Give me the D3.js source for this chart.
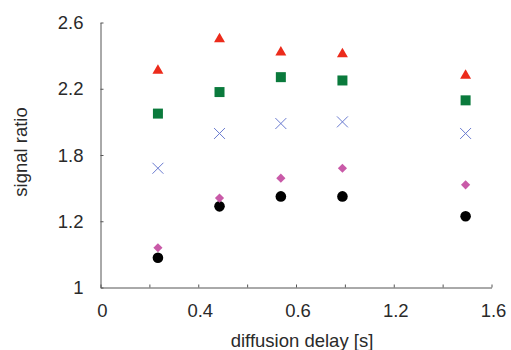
<!DOCTYPE html>
<html>
<head>
<meta charset="utf-8">
<script src="https://cdn.jsdelivr.net/npm/d3@7"></script>
<style>
  body { margin: 0; background: #fff; }
  text { font-family: "Liberation Sans", Arial, sans-serif; fill: #2a2a2a; }
</style>
</head>
<body>
<div class="canvas"></div>
<script>
// diffusion delay [s]
const delays = [0.235, 0.487, 0.738, 0.99, 1.494];

// signal ratio per series
const triangles = [2.31, 2.50, 2.42, 2.41, 2.28];
const squares   = [2.05, 2.18, 2.27, 2.25, 2.13];
const crosses   = [1.72, 1.93, 1.99, 2.00, 1.93];
const diamonds  = [1.24, 1.54, 1.66, 1.72, 1.62];
const circles   = [1.18, 1.49, 1.55, 1.55, 1.43];

// tick positions and the labels printed next to them
const xTicks = [0, 0.4, 0.8, 1.2, 1.6];
const xTickLabels = ['0', '0.4', '0.6', '1.2', '1.6'];
const yTicks = [1, 1.4, 1.8, 2.2, 2.6];
const yTickLabels = ['1', '1.2', '1.8', '2.2', '2.6'];

const dims = { width: 511, height: 350 };
const margin = { left: 100.5, right: 19.5, top: 22.5, bottom: 62.5 };

const svg = d3.select('.canvas')
  .append('svg')
  .attr('width', dims.width)
  .attr('height', dims.height);

const x = d3.scaleLinear()
  .domain([0, 1.6])
  .range([margin.left, dims.width - margin.right]);

const y = d3.scaleLinear()
  .domain([1, 2.6])
  .range([dims.height - margin.bottom, margin.top]);

const axisColor = '#555';

// x axis: line with small upward ticks every 0.2
const xAxis = svg.append('g')
  .attr('transform', `translate(0, ${y(1)})`)
  .call(d3.axisTop(x).tickValues(d3.range(0, 1.61, 0.2)).tickSize(3).tickSizeOuter(0).tickFormat(''));

xAxis.select('.domain').attr('stroke', axisColor);
xAxis.selectAll('.tick line').attr('stroke', axisColor);

svg.append('g').selectAll('text')
  .data(xTicks)
  .enter()
  .append('text')
    .attr('x', d => x(d) + 2)
    .attr('y', y(1) + 29)
    .attr('text-anchor', 'middle')
    .attr('font-size', '18.5px')
    .text((d, i) => xTickLabels[i]);

// y axis: line with small inward ticks
const yAxis = svg.append('g')
  .attr('transform', `translate(${x(0)}, 0)`)
  .call(d3.axisRight(y).tickValues(yTicks).tickSize(3).tickSizeOuter(0).tickFormat(''));

yAxis.select('.domain').attr('stroke', axisColor);
yAxis.selectAll('.tick line').attr('stroke', axisColor);

svg.append('g').selectAll('text')
  .data(yTicks)
  .enter()
  .append('text')
    .attr('x', x(0) - 17)
    .attr('y', d => y(d) + 6.5)
    .attr('text-anchor', 'end')
    .attr('font-size', '18.5px')
    .text((d, i) => yTickLabels[i]);

// axis titles
svg.append('text')
  .attr('x', 302)
  .attr('y', 347)
  .attr('text-anchor', 'middle')
  .attr('font-size', '18.5px')
  .text('diffusion delay [s]');

svg.append('text')
  .attr('transform', `translate(27, 152) rotate(-90)`)
  .attr('text-anchor', 'middle')
  .attr('font-size', '18.5px')
  .text('signal ratio');

// markers
const series = [
  { values: circles,   type: d3.symbolCircle,   size: 88, fill: '#000', rot: 0 },
  { values: diamonds,  type: d3.symbolSquare,   size: 42, fill: '#c95aa8', rot: 45 },
  { values: crosses,   type: d3.symbolTimes,    size: 80, fill: 'none', stroke: '#6a7bd0', rot: 0 },
  { values: squares,   type: d3.symbolSquare,   size: 100, fill: '#0a7a3c', rot: 0 },
  { values: triangles, type: d3.symbolTriangle, size: 52, fill: '#ec2b1b', rot: 0 }
];

series.forEach(s => {
  svg.append('g').selectAll('path')
    .data(s.values)
    .enter()
    .append('path')
      .attr('d', d3.symbol().type(s.type).size(s.size))
      .attr('transform', (d, i) => `translate(${x(delays[i])}, ${y(d)}) rotate(${s.rot})`)
      .attr('fill', s.fill)
      .attr('stroke', s.stroke || 'none')
      .attr('stroke-width', 1);
});
</script>
</body>
</html>
